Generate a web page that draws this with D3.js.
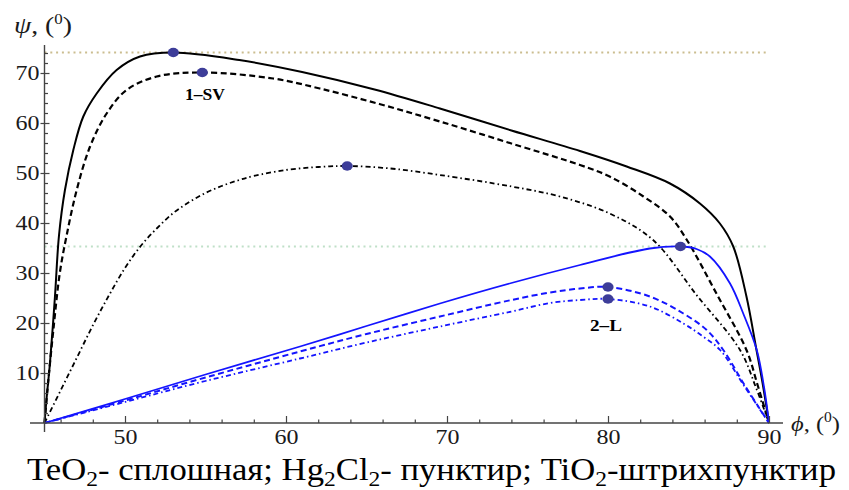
<!DOCTYPE html>
<html>
<head>
<meta charset="utf-8">
<script src="https://cdnjs.cloudflare.com/ajax/libs/d3/7.8.5/d3.min.js"></script>
<style>
  body { margin: 0; background: #fff; }
  text { font-family: "Liberation Serif", "Times New Roman", serif; }
</style>
</head>
<body>
<script>
// phi (deg), psi (deg)
var teo2SV = [[45,0],[45.14,5.3],[45.34,12],[45.65,25.3],[45.9,37.5],[46.27,46.6],[46.79,54.6],[47.41,61.3],[48.24,65.9],[49.48,70.6],[50.93,73.3],[53,74.1],[57.1,72.6],[61,70.2],[65.5,66.7],[69.56,62.9],[74,58.5],[78.26,54.4],[81.16,51.3],[83.85,47.9],[85.71,43.9],[86.95,39.9],[87.78,35.3],[88.6,25.3],[89.2,15],[89.6,8],[90,0]];
var hg2cl2SV = [[45,0],[45.24,8.6],[45.55,18.6],[45.95,30],[46.38,37.6],[47.0,46.6],[47.83,55.3],[48.86,61.9],[50.1,66.6],[51.97,69.3],[54.8,70.1],[59.2,68.9],[62.1,66.9],[65.8,63.8],[69.56,60.3],[74,55.9],[78.26,51.6],[80.1,49.3],[82.2,45.3],[83.85,41.3],[84.9,36.6],[86.8,25.5],[88.6,14.6],[89.3,7.5],[90,0]];
var tio2SV = [[45,0],[46,6.5],[47,13],[48,19.5],[49,25.5],[50,31],[51,35.5],[52,39],[53,42],[54,44.2],[55,46],[56,47.4],[57,48.5],[58,49.4],[60,50.6],[62,51.2],[63.8,51.4],[66.5,50.9],[69.56,49.6],[74,47.3],[77.0,45.3],[80.1,41.9],[82.8,36.6],[85.5,25.6],[88.2,14.6],[89.2,7],[90,0]];
var teo2L = [[45,0],[50,4.8],[55,9.7],[60.87,15.3],[65,19.4],[69.56,23.9],[74,28],[78.26,31.6],[82.6,34.9],[84.5,35.3],[85.5,34.8],[86.33,33.3],[87.58,27.9],[88.4,21.9],[89.24,14.6],[89.7,7],[90,0]];
var hg2cl2L = [[45,0],[50,4.5],[55,9.1],[60.87,14.3],[65,17.8],[69.56,21.3],[74,24.6],[76.4,26.1],[78.26,26.9],[80,27.2],[82.6,25.3],[84.68,21.9],[86.13,18.6],[87.16,14.6],[88.5,7.5],[90,0]];
var tio2L = [[45,0],[50,4.2],[55,8.4],[60.87,12.9],[65,16.1],[69.56,19.3],[74,22.3],[76.4,24.0],[78.26,24.6],[80,24.8],[82.6,23.3],[84.68,19.9],[85.9,17.3],[86.96,14.6],[88.5,7.2],[90,0]];
var peaks = [[53,74.1],[54.8,70.1],[63.8,51.4],[84.5,35.3],[80,27.2],[80,24.8]];
var refLevels = [74.1, 35.3];
var xTicks = [50,60,70,80,90];
var yTicks = [10,20,30,40,50,60,70];

var W = 849, H = 490;
var svg = d3.select("body").append("svg").attr("width", W).attr("height", H);

var x = d3.scaleLinear().domain([45, 90]).range([44.5, 769]);
var y = d3.scaleLinear().domain([0, 70]).range([423, 73]);

// reference dotted lines
var refColors = ["#cbbd8f", "#bfe0c8"];
refLevels.forEach(function (v, i) {
    svg.append("line")
        .attr("x1", x(45)).attr("x2", x(90))
        .attr("y1", y(v)).attr("y2", y(v))
        .style("stroke", refColors[i])
        .style("stroke-width", 2)
        .style("stroke-dasharray", "2,3.8");
});

var line = d3.line()
    .x(function (d) { return x(d[0]); })
    .y(function (d) { return y(d[1]); })
    .curve(d3.curveCatmullRom.alpha(0.5));

var series = [
    { data: teo2SV, color: "#000", width: 2, dash: null },
    { data: hg2cl2SV, color: "#000", width: 2.2, dash: "6,3.5" },
    { data: tio2SV, color: "#000", width: 1.8, dash: "5,3,1.5,3" },
    { data: teo2L, color: "#1414ff", width: 1.8, dash: null },
    { data: hg2cl2L, color: "#1414ff", width: 2, dash: "6,3.5" },
    { data: tio2L, color: "#1414ff", width: 1.8, dash: "5,3,1.5,3" }
];

series.forEach(function (s) {
    svg.append("path")
        .datum(s.data)
        .attr("d", line)
        .style("fill", "none")
        .style("stroke", s.color)
        .style("stroke-width", s.width)
        .style("stroke-dasharray", s.dash);
});

svg.selectAll("ellipse.peak")
    .data(peaks)
    .enter()
    .append("ellipse")
    .attr("class", "peak")
    .attr("cx", function (d) { return x(d[0]); })
    .attr("cy", function (d) { return y(d[1]); })
    .attr("rx", 5.6)
    .attr("ry", 4.7)
    .style("fill", "#3d3d99");

// axes
var axisColor = "#444";
svg.append("line").attr("x1", 30).attr("x2", 783).attr("y1", y(0)).attr("y2", y(0))
    .style("stroke", axisColor).style("stroke-width", 1.4);
svg.append("line").attr("x1", x(45)).attr("x2", x(45)).attr("y1", 45).attr("y2", 432)
    .style("stroke", axisColor).style("stroke-width", 1.4);

var xMinor = d3.range(46, 90, 2).filter(function (v) { return xTicks.indexOf(v) < 0; });
var yMinor = d3.range(2, 76, 2).filter(function (v) { return yTicks.indexOf(v) < 0; });

var gx = svg.append("g").attr("transform", "translate(0," + y(0) + ")")
    .call(d3.axisBottom(x).tickValues(xTicks).tickSize(-7).tickPadding(7));
var gxm = svg.append("g").attr("transform", "translate(0," + y(0) + ")")
    .call(d3.axisBottom(x).tickValues(xMinor).tickSize(-3.5).tickFormat(""));

var gy = svg.append("g").attr("transform", "translate(" + x(45) + ",0)")
    .call(d3.axisLeft(y).tickValues(yTicks).tickSize(-5).tickPadding(5));
gy.selectAll(".tick").append("line").attr("x1", -4).attr("x2", 0);
var gym = svg.append("g").attr("transform", "translate(" + x(45) + ",0)")
    .call(d3.axisLeft(y).tickValues(yMinor).tickSize(-3.5).tickFormat(""));

[gx, gxm, gy, gym].forEach(function (g) {
    g.select(".domain").remove();
    g.selectAll("line").style("stroke", axisColor).style("stroke-width", 1.2);
    g.selectAll("text")
        .style("font-family", "'Liberation Serif', serif")
        .style("font-size", "20px")
        .style("fill", "#1a1a1a")
        .attr("textLength", 24)
        .attr("lengthAdjust", "spacingAndGlyphs");
});

// axis titles
var yt = svg.append("text").attr("x", 14).attr("y", 33).style("font-size", "23px").style("fill", "#1a1a1a")
    .attr("textLength", 58).attr("lengthAdjust", "spacingAndGlyphs");
yt.append("tspan").style("font-style", "italic").text("ψ");
yt.append("tspan").text(", (");
yt.append("tspan").attr("dy", -9).style("font-size", "14px").text("0");
yt.append("tspan").attr("dy", 9).text(")");

var xt = svg.append("text").attr("x", 791).attr("y", 431).style("font-size", "22px").style("fill", "#1a1a1a")
    .attr("textLength", 49).attr("lengthAdjust", "spacingAndGlyphs");
xt.append("tspan").style("font-style", "italic").text("ϕ");
xt.append("tspan").text(", (");
xt.append("tspan").attr("dy", -9).style("font-size", "14px").text("0");
xt.append("tspan").attr("dy", 9).text(")");

// curve labels
svg.append("text").attr("x", 205).attr("y", 100).attr("text-anchor", "middle")
    .style("font-size", "16px").style("font-weight", "bold")
    .attr("textLength", 40).attr("lengthAdjust", "spacingAndGlyphs").text("1–SV");
svg.append("text").attr("x", 606).attr("y", 331).attr("text-anchor", "middle")
    .style("font-size", "16px").style("font-weight", "bold")
    .attr("textLength", 32).attr("lengthAdjust", "spacingAndGlyphs").text("2–L");

// caption
var cap = svg.append("text").attr("x", 27).attr("y", 480).style("font-size", "31px").style("fill", "#000")
    .attr("textLength", 809).attr("lengthAdjust", "spacingAndGlyphs");
var parts = [["TeO", "2", "- сплошная; Hg"], ["", "2", "Cl"], ["", "2", "- пунктир; TiO"], ["", "2", "-штрихпунктир"]];
parts.forEach(function (p) {
    if (p[0]) cap.append("tspan").text(p[0]);
    cap.append("tspan").attr("dy", 6).style("font-size", "21px").text(p[1]);
    cap.append("tspan").attr("dy", -6).text(p[2]);
});
</script>
</body>
</html>
